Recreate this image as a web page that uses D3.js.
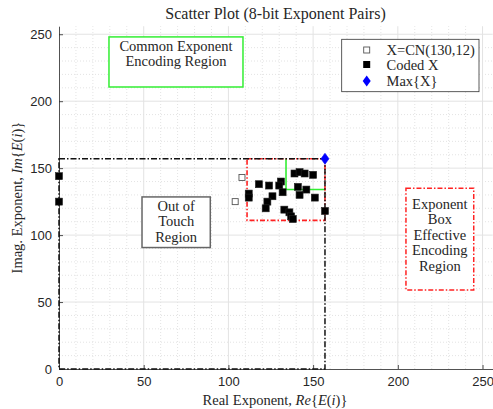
<!DOCTYPE html>
<html>
<head>
<meta charset="utf-8">
<script src="https://cdn.jsdelivr.net/npm/d3@7/dist/d3.min.js"></script>
<style>
  html, body { margin: 0; padding: 0; background: #fff; }
  svg { display: block; }
  .serif { font-family: "Liberation Serif", "Times New Roman", serif; fill: #262626; }
  .tick text { font-family: "Liberation Sans", Arial, sans-serif; font-size: 13px; fill: #262626; }
</style>
</head>
<body>
<svg id="chart" width="493" height="409"></svg>
<script>
// Exponent pairs (real, imag)
const cnX = [108, 104];
const cnY = [143, 125];

const codedX = [0, 0, 112, 112, 118, 124, 131, 130, 132, 126, 123, 122, 133, 136, 137, 138,
                139, 142, 145, 150, 141, 146, 142, 151, 157];
const codedY = [144, 125, 131, 128, 138, 137, 140, 137, 132, 129, 125, 120, 119, 117, 114, 112,
                146, 147, 146, 145, 136, 134, 130, 128, 118];

const maxX = [157];
const maxY = [157];

const axisTicks = [0, 50, 100, 150, 200, 250];
const minorTicks = d3.range(0, 257, 10).filter(v => v % 50 !== 0);

// Region boundaries (exponent units)
const touchLimit = 157;
const boxLow = 111;
const commonLow = 134;

const svg = d3.select("#chart");
const plotLeft = 59, plotBottom = 369, plotTop = 26.2, plotRight = 492.7;

const x = d3.scaleLinear().domain([0, 256]).range([plotLeft, plotRight]);
const y = d3.scaleLinear().domain([0, 256]).range([plotBottom, plotTop]);

// grid
const grid = svg.append("g");
grid.selectAll(".minx").data(minorTicks).join("line")
  .attr("x1", d => x(d)).attr("x2", d => x(d)).attr("y1", y(0)).attr("y2", y(256))
  .attr("stroke", "#dcdcdc").attr("stroke-width", 0.8).attr("stroke-dasharray", "1,2");
grid.selectAll(".miny").data(minorTicks).join("line")
  .attr("y1", d => y(d)).attr("y2", d => y(d)).attr("x1", x(0)).attr("x2", x(256))
  .attr("stroke", "#dcdcdc").attr("stroke-width", 0.8).attr("stroke-dasharray", "1,2");
grid.selectAll(".majx").data(axisTicks.slice(1)).join("line")
  .attr("x1", d => x(d)).attr("x2", d => x(d)).attr("y1", y(0)).attr("y2", y(256))
  .attr("stroke", "#e3e3e3").attr("stroke-width", 1);
grid.selectAll(".majy").data(axisTicks.slice(1)).join("line")
  .attr("y1", d => y(d)).attr("y2", d => y(d)).attr("x1", x(0)).attr("x2", x(256))
  .attr("stroke", "#e3e3e3").attr("stroke-width", 1);

// axes
const xAxis = d3.axisBottom(x).tickValues(axisTicks).tickSizeInner(-4).tickSizeOuter(0).tickPadding(8);
const yAxis = d3.axisLeft(y).tickValues(axisTicks).tickSizeInner(-4).tickSizeOuter(0).tickPadding(7);
const gx = svg.append("g").attr("class", "x-axis").attr("transform", `translate(0,${plotBottom})`).call(xAxis);
const gy = svg.append("g").attr("class", "y-axis").attr("transform", `translate(${plotLeft},0)`).call(yAxis);
[gx, gy].forEach(g => {
  g.select(".domain").attr("stroke", "#262626").attr("stroke-width", 0.8);
  g.selectAll(".tick line").attr("stroke", "#262626").attr("stroke-width", 0.8);
});

// region outlines
svg.append("path")
  .attr("d", `M${x(commonLow)},${y(touchLimit)}V${y(commonLow)}H${x(touchLimit)}`)
  .attr("fill", "none").attr("stroke", "#33ee33").attr("stroke-width", 1.6);
svg.append("rect")
  .attr("x", x(boxLow)).attr("y", y(touchLimit))
  .attr("width", x(touchLimit) - x(boxLow)).attr("height", y(boxLow) - y(touchLimit))
  .attr("fill", "none").attr("stroke", "#ff2222").attr("stroke-width", 1.6)
  .attr("stroke-dasharray", "5,2,1.5,2");
svg.append("path")
  .attr("d", `M${x(0)},${y(touchLimit)}H${x(touchLimit)}V${y(0)}H${x(0)}Z`)
  .attr("fill", "none").attr("stroke", "#111").attr("stroke-width", 1.5)
  .attr("stroke-dasharray", "6,2,1.5,2");

// markers
const sq = 7;
svg.append("g").selectAll("rect").data(cnX.map((v, i) => [v, cnY[i]])).join("rect")
  .attr("x", d => x(d[0]) - 3).attr("y", d => y(d[1]) - 3)
  .attr("width", 6).attr("height", 6)
  .attr("fill", "#fff").attr("stroke", "#555").attr("stroke-width", 0.9);
svg.append("g").selectAll("rect").data(codedX.map((v, i) => [v, codedY[i]])).join("rect")
  .attr("x", d => x(d[0]) - sq / 2).attr("y", d => y(d[1]) - sq / 2)
  .attr("width", sq).attr("height", sq)
  .attr("fill", "#000").attr("stroke", "#222").attr("stroke-width", 0.6);
const diamond = (cx, cy, w, h) => `M${cx},${cy - h}L${cx + w},${cy}L${cx},${cy + h}L${cx - w},${cy}Z`;
svg.append("g").selectAll("path").data(maxX.map((v, i) => [v, maxY[i]])).join("path")
  .attr("d", d => diamond(x(d[0]), y(d[1]), 4, 5.5))
  .attr("fill", "#0000ff").attr("stroke", "#0000ff").attr("stroke-width", 0.6);

// annotation boxes
function textBox(x0, y0, x1, y1, lines, stroke, dash, lineY0) {
  const g = svg.append("g");
  g.append("rect").attr("x", x(x0)).attr("y", y(y0))
    .attr("width", x(x1) - x(x0)).attr("height", y(y1) - y(y0))
    .attr("fill", "#fff").attr("stroke", stroke).attr("stroke-width", 1.5)
    .attr("stroke-dasharray", dash);
  const cx = (x(x0) + x(x1)) / 2;
  g.selectAll("text").data(lines).join("text")
    .attr("class", "serif")
    .attr("x", cx).attr("y", (d, i) => y(y0) + lineY0 + i * 15.5)
    .attr("text-anchor", "middle").attr("font-size", 14.5)
    .text(d => d);
}
textBox(29.5, 248, 108.6, 210.6, ["Common Exponent", "Encoding Region"], "#33ee33", null, 14);
textBox(49, 128.5, 89.3, 90.7, ["Out of", "Touch", "Region"], "#666", null, 14);
textBox(204.8, 135, 244.8, 59, ["Exponent", "Box", "Effective", "Encoding", "Region"], "#ff2222", "5,2,1.5,2", 20.5);

// legend
const lg = svg.append("g");
lg.append("rect").attr("x", 341.7).attr("y", 39.3).attr("width", 137.3).attr("height", 52.4)
  .attr("fill", "#fff").attr("stroke", "#333").attr("stroke-width", 0.8);
const legendRows = [
  { label: "X=CN(130,12)", cy: 50 },
  { label: "Coded X", cy: 64.5 },
  { label: "Max{X}", cy: 81 }
];
lg.append("rect").attr("x", 363.7).attr("y", legendRows[0].cy - 3).attr("width", 6).attr("height", 6)
  .attr("fill", "#fff").attr("stroke", "#555").attr("stroke-width", 0.9);
lg.append("rect").attr("x", 363.2).attr("y", legendRows[1].cy - 3.5).attr("width", 7).attr("height", 7)
  .attr("fill", "#000");
lg.append("path").attr("d", diamond(366.7, legendRows[2].cy, 4, 5.5)).attr("fill", "#0000ff");
lg.selectAll("text").data(legendRows).join("text")
  .attr("class", "serif").attr("x", 386.5).attr("y", d => d.cy + 5)
  .attr("font-size", 14.5).text(d => d.label);

// title
svg.append("text").attr("class", "serif").attr("x", 275.5).attr("y", 19)
  .attr("text-anchor", "middle").attr("font-size", 16)
  .text("Scatter Plot (8-bit Exponent Pairs)");

// axis labels
const xl = svg.append("text").attr("class", "serif").attr("x", 275).attr("y", 405)
  .attr("text-anchor", "middle").attr("font-size", 14.5);
xl.append("tspan").text("Real Exponent, ");
xl.append("tspan").attr("font-style", "italic").text("Re");
xl.append("tspan").text("{");
xl.append("tspan").attr("font-style", "italic").text("E");
xl.append("tspan").text("(");
xl.append("tspan").attr("font-style", "italic").text("i");
xl.append("tspan").text(")}");

const yl = svg.append("text").attr("class", "serif")
  .attr("transform", `translate(22,${(plotBottom + plotTop) / 2}) rotate(-90)`)
  .attr("text-anchor", "middle").attr("font-size", 14.5);
yl.append("tspan").text("Imag. Exponent, ");
yl.append("tspan").attr("font-style", "italic").text("Im");
yl.append("tspan").text("{");
yl.append("tspan").attr("font-style", "italic").text("E");
yl.append("tspan").text("(");
yl.append("tspan").attr("font-style", "italic").text("i");
yl.append("tspan").text(")}");
</script>
</body>
</html>
